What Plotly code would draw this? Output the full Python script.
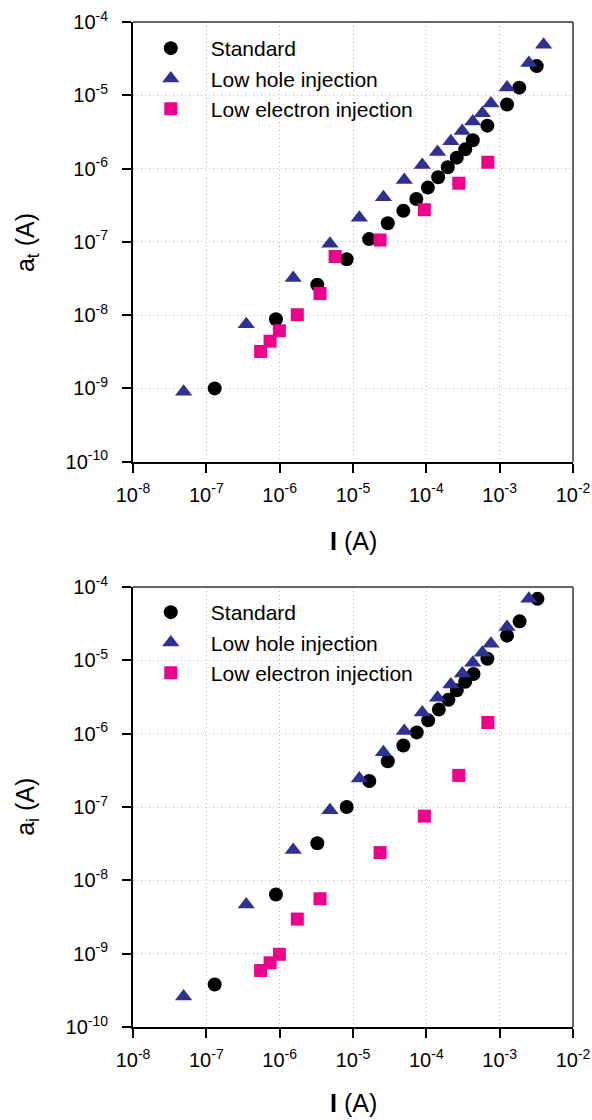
import plotly.graph_objects as go

# ---------------- data ----------------
tick_vals_x = [1e-8, 1e-7, 1e-6, 1e-5, 1e-4, 1e-3, 1e-2]
tick_text_x = ["10<sup>-8</sup>", "10<sup>-7</sup>", "10<sup>-6</sup>", "10<sup>-5</sup>",
               "10<sup>-4</sup>", "10<sup>-3</sup>", "10<sup>-2</sup>"]
tick_vals_y = [1e-10, 1e-9, 1e-8, 1e-7, 1e-6, 1e-5, 1e-4]
tick_text_y = ["10<sup>-10</sup>", "10<sup>-9</sup>", "10<sup>-8</sup>", "10<sup>-7</sup>",
               "10<sup>-6</sup>", "10<sup>-5</sup>", "10<sup>-4</sup>"]

series_names = ["Standard", "Low hole injection", "Low electron injection"]

# top panel: a_t
at_std_I = [1.3e-7, 8.9e-7, 3.26e-6, 8.2e-6, 1.66e-5, 2.98e-5, 4.86e-5, 7.3e-5, 1.05e-4,
            1.45e-4, 1.96e-4, 2.6e-4, 3.39e-4, 4.3e-4, 6.8e-4, 1.26e-3, 1.85e-3, 3.2e-3]
at_std_a = [1.0e-9, 8.8e-9, 2.6e-8, 5.8e-8, 1.09e-7, 1.79e-7, 2.66e-7, 3.85e-7, 5.5e-7,
            7.6e-7, 1.04e-6, 1.41e-6, 1.83e-6, 2.43e-6, 3.85e-6, 7.5e-6, 1.27e-5, 2.5e-5]

at_hole_I = [4.9e-8, 3.5e-7, 1.53e-6, 4.85e-6, 1.22e-5, 2.6e-5, 5.0e-5, 8.8e-5, 1.42e-4,
             2.16e-4, 3.08e-4, 4.3e-4, 5.8e-4, 7.6e-4, 1.26e-3, 2.5e-3, 3.97e-3]
at_hole_a = [9.0e-10, 7.5e-9, 3.2e-8, 9.4e-8, 2.14e-7, 4.05e-7, 7.0e-7, 1.12e-6, 1.68e-6,
             2.35e-6, 3.26e-6, 4.4e-6, 5.7e-6, 7.7e-6, 1.28e-5, 2.75e-5, 4.9e-5]

at_elec_I = [5.5e-7, 7.4e-7, 9.9e-7, 1.74e-6, 3.55e-6, 5.7e-6, 2.34e-5, 9.4e-5, 2.77e-4, 6.9e-4]
at_elec_a = [3.2e-9, 4.4e-9, 6.1e-9, 1.01e-8, 1.98e-8, 6.3e-8, 1.06e-7, 2.75e-7, 6.3e-7, 1.22e-6]

# bottom panel: a_i
ai_std_I = [1.3e-7, 8.9e-7, 3.26e-6, 8.2e-6, 1.67e-5, 2.98e-5, 4.86e-5, 7.4e-5, 1.06e-4,
            1.48e-4, 2.0e-4, 2.6e-4, 3.39e-4, 4.4e-4, 6.8e-4, 1.26e-3, 1.87e-3, 3.28e-3]
ai_std_a = [3.8e-10, 6.4e-9, 3.2e-8, 1.0e-7, 2.26e-7, 4.2e-7, 6.9e-7, 1.04e-6, 1.52e-6,
            2.13e-6, 2.9e-6, 3.9e-6, 5.1e-6, 6.5e-6, 1.05e-5, 2.17e-5, 3.4e-5, 6.9e-5]

ai_hole_I = [4.9e-8, 3.5e-7, 1.53e-6, 4.85e-6, 1.22e-5, 2.6e-5, 5.0e-5, 8.8e-5, 1.42e-4,
             2.16e-4, 3.1e-4, 4.3e-4, 5.8e-4, 7.6e-4, 1.26e-3, 2.5e-3]
ai_hole_a = [2.6e-10, 4.7e-9, 2.6e-8, 9.0e-8, 2.44e-7, 5.6e-7, 1.09e-6, 1.94e-6, 3.1e-6,
             4.7e-6, 6.6e-6, 9.3e-6, 1.27e-5, 1.69e-5, 2.85e-5, 6.9e-5]

ai_elec_I = [5.5e-7, 7.4e-7, 9.9e-7, 1.74e-6, 3.55e-6, 2.34e-5, 9.4e-5, 2.77e-4, 6.9e-4]
ai_elec_a = [5.9e-10, 7.5e-10, 9.8e-10, 2.96e-9, 5.6e-9, 2.39e-8, 7.5e-8, 2.7e-7, 1.42e-6]

# ---------------- styles ----------------
FONT = "Arial, Liberation Sans, Helvetica, sans-serif"
colors = ["#000000", "#2E3192", "#EC008C"]
symbols = ["circle", "triangle-up", "square"]
sizes = [14, 15, 13]

fig = go.Figure()

panels = [
    ("x", "y", "legend", [(at_std_I, at_std_a), (at_hole_I, at_hole_a), (at_elec_I, at_elec_a)]),
    ("x2", "y2", "legend2", [(ai_std_I, ai_std_a), (ai_hole_I, ai_hole_a), (ai_elec_I, ai_elec_a)]),
]
for xa, ya, leg, data in panels:
    for k, (xs, ys) in enumerate(data):
        fig.add_trace(go.Scatter(
            x=xs, y=ys, mode="markers", name=series_names[k],
            xaxis=xa, yaxis=ya, legend=leg,
            marker=dict(symbol=symbols[k], color=colors[k], size=sizes[k],
                        line=dict(width=0)),
        ))

axis_common = dict(
    type="log", showline=True, linecolor="black", linewidth=2,
    ticks="outside", ticklen=9, tickwidth=2, tickcolor="black",
    showgrid=True, gridcolor="#bdbdbd", gridwidth=1, griddash="1px,3px",
    zeroline=False, tickfont=dict(family=FONT, size=20, color="black"),
    mirror=False, automargin=False,
)
xax = dict(axis_common, range=[-8, -2], tickvals=tick_vals_x, ticktext=tick_text_x,
           ticklabelstandoff=5)
yax = dict(axis_common, range=[-10, -4], tickvals=tick_vals_y, ticktext=tick_text_y,
           ticklabelstandoff=10)

top_dom = [0.5625, 1.0]
bot_dom = [0.0, 0.4378]

legend_common = dict(
    font=dict(family=FONT, size=21, color="black"),
    bgcolor="rgba(0,0,0,0)", borderwidth=0, xanchor="left", yanchor="top",
    tracegroupgap=0, itemsizing="trace", itemwidth=70,
)

shapes = []
for xr, yr in [("x domain", "y domain"), ("x2 domain", "y2 domain")]:
    shapes.append(dict(type="line", xref=xr, yref=yr, x0=0, x1=1, y0=1, y1=1,
                       line=dict(color="#333333", width=1.5)))
    shapes.append(dict(type="line", xref=xr, yref=yr, x0=1, x1=1, y0=0, y1=1,
                       line=dict(color="#333333", width=1.5)))

title_font = dict(family=FONT, size=25, color="black")
annotations = [
    dict(text="a<sub>t</sub> (A)", xref="paper", yref="paper", x=-0.241, y=0.781,
         textangle=-90, showarrow=False, font=title_font, xanchor="center", yanchor="middle"),
    dict(text="a<sub>i</sub> (A)", xref="paper", yref="paper", x=-0.241, y=0.219,
         textangle=-90, showarrow=False, font=title_font, xanchor="center", yanchor="middle"),
    dict(text="<b>I</b> (A)", xref="paper", yref="paper", x=0.5, y=0.4837,
         showarrow=False, font=title_font, xanchor="center", yanchor="middle"),
    dict(text="<b>I</b> (A)", xref="paper", yref="paper", x=0.5, y=-0.0759,
         showarrow=False, font=title_font, xanchor="center", yanchor="middle"),
]

fig.update_layout(
    width=592, height=1120,
    margin=dict(l=133, r=19, t=22, b=93, pad=0, autoexpand=False),
    paper_bgcolor="white", plot_bgcolor="white",
    xaxis=dict(xax, domain=[0, 1], anchor="y"),
    yaxis=dict(yax, domain=top_dom, anchor="x"),
    xaxis2=dict(xax, domain=[0, 1], anchor="y2"),
    yaxis2=dict(yax, domain=bot_dom, anchor="x2"),
    legend=dict(legend_common, x=-0.005, y=1 - 6 / 1005),
    legend2=dict(legend_common, x=-0.005, y=bot_dom[1] - 5 / 1005),
    shapes=shapes,
    annotations=annotations,
    showlegend=True,
)

fig.write_html("out.html", config={"displayModeBar": False},
               post_script="document.body.style.margin='0';")
